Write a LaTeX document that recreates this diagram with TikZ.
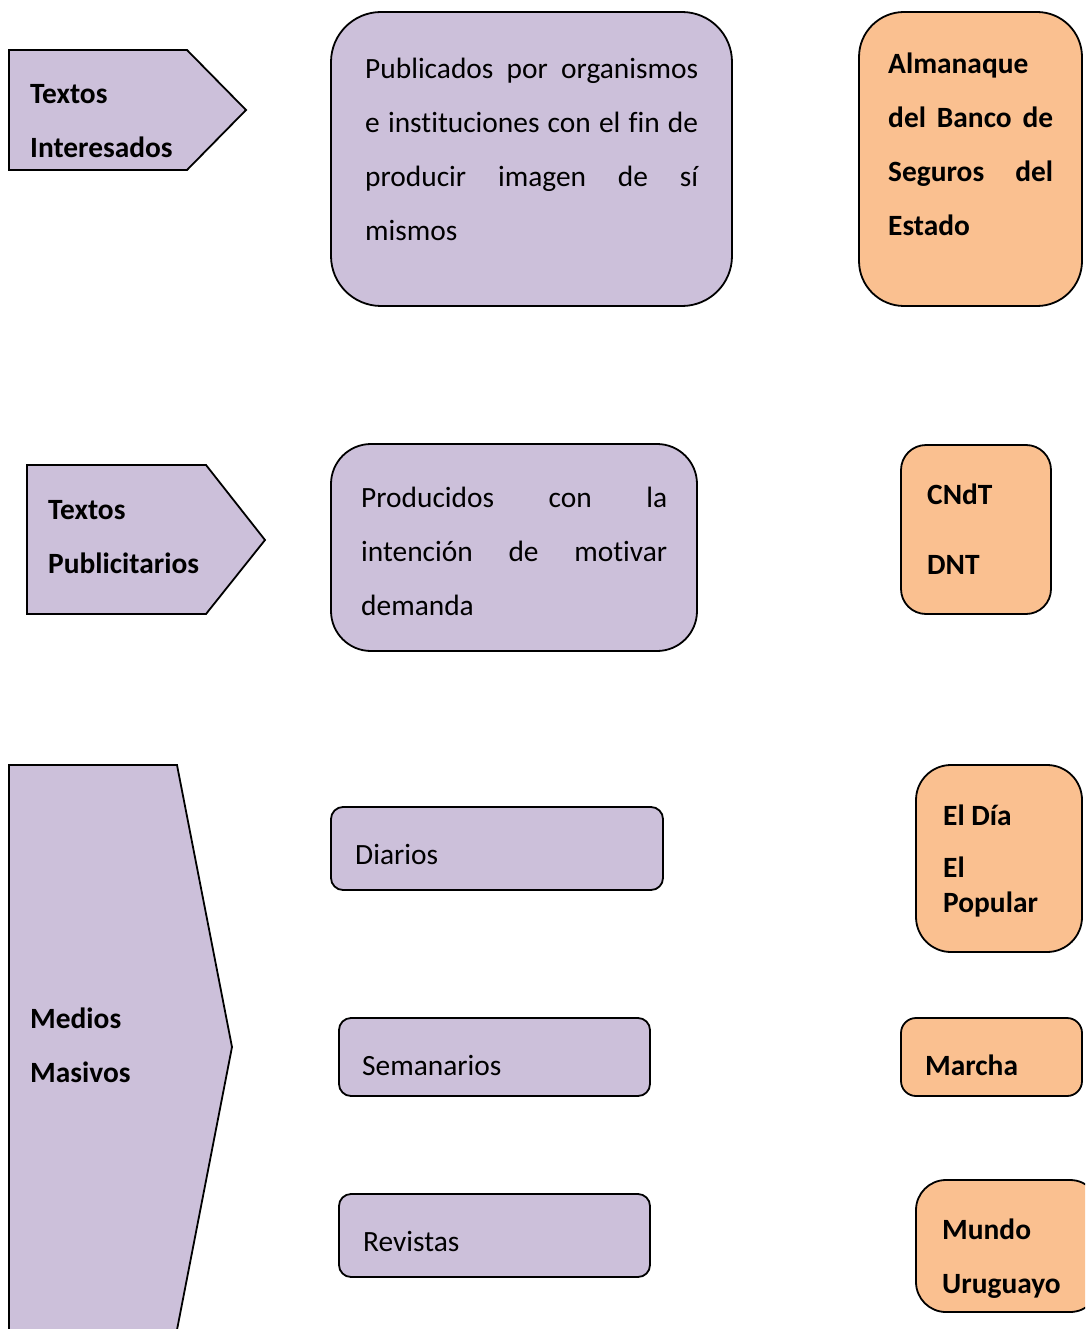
\documentclass[tikz,border=0pt]{standalone}
\usepackage{fontspec}
\setmainfont{Carlito}[Ligatures={NoCommon}]
\definecolor{lav}{HTML}{CCC0DA}
\definecolor{peach}{HTML}{FAC090}
\newcommand\jline[2]{\makebox[#1][s]{#2}}
\begin{document}
\begin{tikzpicture}[x=1pt,y=-1pt,
  shp/.style={draw=black,line width=1.8pt,line join=miter},
  lavbox/.style={shp,fill=lav},
  peachbox/.style={shp,fill=peach},
  txt/.style={anchor=base west,inner sep=0pt,font=\fontsize{29.4}{54}\selectfont},
  btxt/.style={txt,font=\fontsize{29.4}{54}\selectfont\bfseries}]
\clip (0,0) rectangle (1085,1329);
% row 1
\draw[lavbox] (9,50) -- (187,50) -- (246,110) -- (187,170) -- (9,170) -- cycle;
\node[btxt] (ti) at (30,104) {\parbox[t]{200pt}{Textos\\Interesados}};
\draw[lavbox,rounded corners=50pt] (331,12) rectangle (732,306);
\node[txt] (pub) at (365,79) {\parbox[t]{333pt}{\jline{333pt}{Publicados por organismos}\\\jline{333pt}{e instituciones con el fin de}\\\jline{333pt}{producir imagen de sí}\\mismos}};
\draw[peachbox,rounded corners=45pt] (859,12) rectangle (1082,306);
\node[btxt] (alm) at (888,74) {\parbox[t]{165pt}{Almanaque\\\jline{165pt}{del Banco de}\\\jline{165pt}{Seguros del}\\Estado}};
% row 2
\draw[lavbox] (27,465) -- (206,465) -- (265,540) -- (206,614) -- (27,614) -- cycle;
\node[btxt] (tp) at (48,519) {\parbox[t]{200pt}{Textos\\Publicitarios}};
\draw[lavbox,rounded corners=40pt] (331,444) rectangle (697,651);
\node[txt] (prod) at (361,507) {\parbox[t]{306pt}{\jline{306pt}{Producidos con la}\\\jline{306pt}{intención de motivar}\\demanda}};
\draw[peachbox,rounded corners=25pt] (901,445) rectangle (1051,614);
\node[btxt] (cndt) at (927,504) {CNdT};
\node[btxt] (dnt) at (927,574) {DNT};
% row 3
\draw[lavbox] (9,765) -- (177,765) -- (232,1047) -- (175.6,1337) -- (9,1337) -- cycle;
\node[btxt] (mm) at (30,1028) {\parbox[t]{200pt}{Medios\\Masivos}};
\draw[lavbox,rounded corners=12pt] (331,807) rectangle (663,890);
\node[txt] (dia) at (355,864) {Diarios};
\draw[peachbox,rounded corners=35pt] (916,765) rectangle (1082,952);
\node[btxt] (eldia) at (943,825) {El Día};
\node[btxt] (el) at (943,877) {El};
\node[btxt] (pop) at (943,912) {Popular};
\draw[lavbox,rounded corners=12pt] (339,1018) rectangle (650,1096);
\node[txt] (sem) at (362,1075) {Semanarios};
\draw[peachbox,rounded corners=15pt] (901,1018) rectangle (1082,1096);
\node[btxt] (mar) at (925,1075) {Marcha};
\draw[lavbox,rounded corners=12pt] (339,1194) rectangle (650,1277);
\node[txt] (rev) at (363,1251) {Revistas};
\draw[peachbox,rounded corners=30pt] (916,1180) rectangle (1100,1312);
\node[btxt] (mu) at (942,1239) {\parbox[t]{200pt}{Mundo\\Uruguayo}};
\end{tikzpicture}
\end{document}
